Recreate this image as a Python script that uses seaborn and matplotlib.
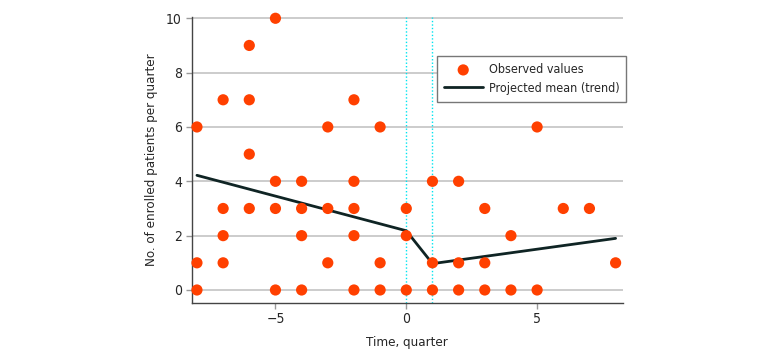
import pandas as pd
import matplotlib.pyplot as plt
import seaborn as sns

# Observed enrolled patients per quarter (one entry per dot)
quarter = ([-8] * 3 + [-7] * 4 + [-6] * 4 + [-5] * 4 + [-4] * 4 + [-3] * 3
           + [-2] * 5 + [-1] * 3 + [0] * 3 + [1] * 3 + [2] * 3 + [3] * 3
           + [4] * 2 + [5] * 2 + [6] + [7] + [8])
patients = [6, 1, 0,
            7, 3, 2, 1,
            9, 7, 5, 3,
            10, 4, 3, 0,
            4, 3, 2, 0,
            6, 3, 1,
            7, 4, 3, 2, 0,
            6, 1, 0,
            3, 2, 0,
            4, 1, 0,
            4, 1, 0,
            3, 1, 0,
            2, 0,
            6, 0,
            3,
            3,
            1]

# Projected mean (segmented trend)
trend_x = [-8, 0, 1, 8]
trend_y = [4.22, 2.18, 0.97, 1.9]

obs = pd.DataFrame({'quarter': quarter, 'patients': patients})
trend = pd.DataFrame({'quarter': trend_x, 'mean': trend_y})

sns.set_style("white")
plt.rcParams['font.family'] = ['DejaVu Sans']
plt.rcParams['font.stretch'] = 'condensed'

fig = plt.figure(figsize=(7.8, 3.6), dpi=100)
ax = fig.add_axes([0.2458, 0.159, 0.5525, 0.794])

for y in range(0, 11, 2):
    ax.axhline(y, color='#c4c4c4', linewidth=1.2, zorder=0)
for x in [0, 1]:
    ax.axvline(x, color='#00e5f0', linestyle=(0, (1, 1.5)), linewidth=1, zorder=1)

sns.lineplot(data=trend, x='quarter', y='mean', color='#0f2424', linewidth=2,
             label='Projected mean (trend)', ax=ax, zorder=2)
sns.scatterplot(data=obs, x='quarter', y='patients', color='#ff4000', s=65,
                edgecolor='none', label='Observed values', ax=ax, zorder=3,
                clip_on=False)

ax.set_xlim(-8.2, 8.27)
ax.set_ylim(-0.47, 10.05)
ax.set_xticks([-5, 0, 5])
ax.set_xticklabels(['\u22125', '0', '5'])
ax.set_yticks(range(0, 11, 2))
ax.set_xlabel('Time, quarter', fontsize=9.5, labelpad=7)
ax.set_ylabel('No. of enrolled patients per quarter', fontsize=9.5, labelpad=6)
ax.tick_params(axis='both', labelsize=10, length=4, width=1, color='#999999',
               left=True, bottom=True, pad=3)

for side in ['top', 'right']:
    ax.spines[side].set_visible(False)
for side in ['left', 'bottom']:
    ax.spines[side].set_color('#444444')
    ax.spines[side].set_linewidth(1)

handles, labels = ax.get_legend_handles_labels()
order = [labels.index('Observed values'), labels.index('Projected mean (trend)')]
leg = ax.legend([handles[i] for i in order], [labels[i] for i in order],
                loc='upper right', bbox_to_anchor=(1.023, 0.884), fontsize=9,
                frameon=True, fancybox=False, edgecolor='#777777',
                framealpha=1, borderpad=0.55, handlelength=3.1,
                handletextpad=0.5, labelspacing=0.45)
leg.get_frame().set_linewidth(1)

plt.savefig('out.png', dpi=100)
